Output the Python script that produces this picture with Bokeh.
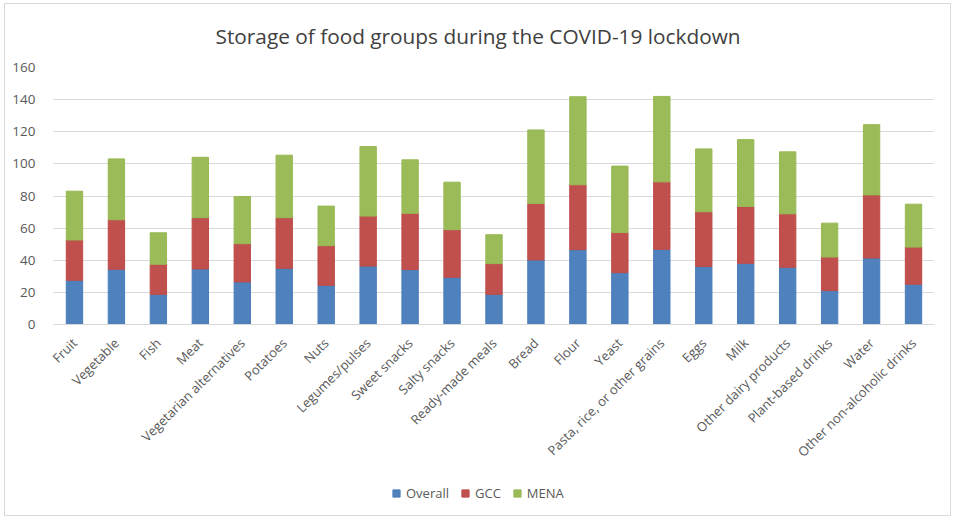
from bokeh.plotting import figure
from bokeh.models import FactorRange, ColumnDataSource, SingleIntervalTicker, Range1d
from bokeh.layouts import column
from bokeh.embed import file_html
from bokeh.resources import INLINE

categories = ["Fruit", "Vegetable", "Fish", "Meat", "Vegetarian alternatives", "Potatoes",
              "Nuts", "Legumes/pulses", "Sweet snacks", "Salty snacks", "Ready-made meals",
              "Bread", "Flour", "Yeast", "Pasta, rice, or other grains", "Eggs", "Milk",
              "Other dairy products", "Plant-based drinks", "Water", "Other non-alcoholic drinks"]
overall = [27.5, 34.4, 18.8, 34.6, 26.5, 35.0, 24.4, 36.4, 34.2, 29.4, 18.8,
           40.2, 46.6, 32.3, 46.8, 36.2, 38.1, 35.6, 21.1, 41.4, 25.1]
gcc = [25.1, 30.8, 18.7, 31.9, 23.8, 31.5, 24.7, 31.1, 35.0, 29.6, 19.1,
       35.2, 40.4, 25.0, 42.0, 34.0, 35.4, 33.3, 20.9, 39.3, 23.1]
mena = [30.4, 37.9, 19.6, 37.6, 29.4, 38.9, 24.6, 43.3, 33.3, 29.6, 18.0,
        45.7, 54.8, 41.3, 53.2, 39.1, 41.6, 38.6, 21.1, 43.7, 26.7]
series = ["Overall", "GCC", "MENA"]
colors = ["#4f81bd", "#c0504d", "#9bbb59"]
edge_colors = ["#4a7ebb", "#be4b48", "#98b954"]

source = ColumnDataSource(dict(cat=categories, Overall=overall, GCC=gcc, MENA=mena))

BORDER = "1px solid #d9d9d9"
xr = FactorRange(*categories)

p = figure(width=947, height=466, x_range=xr, y_range=(0, 160),
           output_backend="svg", toolbar_location=None,
           min_border_left=48, min_border_right=18, min_border_top=63, min_border_bottom=146)
p.margin = (3, 0, 0, 4)
p.styles = {"border-top": BORDER, "border-left": BORDER, "border-right": BORDER}

p.title.text = "Storage of food groups during the COVID-19 lockdown"
p.title.align = "left"
p.title.offset = 162
p.title.vertical_align = "top"
p.title.standoff = 32
p.title.text_font = "Open Sans"
p.title.text_font_size = "20.8px"
p.title.text_font_style = "normal"
p.title.text_color = "#404040"

p.vbar_stack(series, x="cat", width=0.39, source=source,
             fill_color=colors, line_color=edge_colors, line_width=1)

p.outline_line_color = None
p.xgrid.grid_line_color = None
p.ygrid.grid_line_color = "#d9d9d9"
p.ygrid.grid_line_width = 1

p.yaxis.ticker = SingleIntervalTicker(interval=20)
p.yaxis.axis_line_color = None
p.yaxis.major_tick_line_color = None
p.yaxis.minor_tick_line_color = None
p.yaxis.major_label_text_font = "Open Sans"
p.yaxis.major_label_text_font_size = "13.5px"
p.yaxis.major_label_text_color = "#595959"
p.yaxis.major_label_standoff = 12

p.xaxis.axis_line_color = "#d9d9d9"
p.xaxis.major_tick_line_color = None
p.xaxis.minor_tick_line_color = None
p.xaxis.major_label_orientation = 0.785398
p.xaxis.major_label_text_font = "Open Sans"
p.xaxis.major_label_text_font_size = "13px"
p.xaxis.major_label_text_color = "#595959"
p.xaxis.major_label_standoff = 10

# legend strip: square swatches of each series; its y range lies far from the data,
# so only the legend itself is visible
lf = figure(width=947, height=47, x_range=xr, y_range=Range1d(-2001, -2000),
            x_axis_type=None, y_axis_type=None, output_backend="svg",
            toolbar_location=None, min_border=0)
lf.margin = (0, 0, 0, 4)
lf.styles = {"border-bottom": BORDER, "border-left": BORDER, "border-right": BORDER}
lf.outline_line_color = None
for s, c, e in zip(series, colors, edge_colors):
    lf.scatter(x="cat", y=s, source=source, marker="square", size=8,
               fill_color=c, line_color=e, line_width=1, legend_label=s)
lg = lf.legend[0]
lg.location = (334, 14)
lg.orientation = "horizontal"
lg.glyph_width = 18
lg.glyph_height = 18
lg.label_standoff = 1
lg.spacing = 7
lg.label_text_font = "Open Sans"
lg.label_text_font_size = "13px"
lg.label_text_color = "#595959"
lg.border_line_color = None
lg.background_fill_alpha = 0
lg.padding = 0
lg.margin = 0

layout = column(p, lf, spacing=0)

open("out.html", "w").write(file_html(layout, INLINE))
